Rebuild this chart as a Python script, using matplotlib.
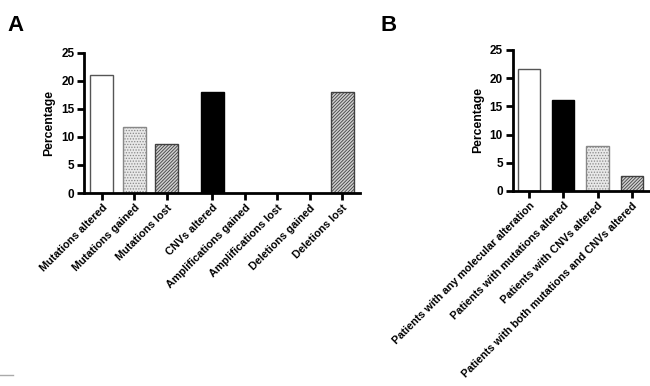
import matplotlib.pyplot as plt
from matplotlib.lines import Line2D

plt.rcParams["font.family"] = ["Liberation Sans", "DejaVu Sans"]
plt.rcParams["font.weight"] = "bold"
plt.rcParams["hatch.linewidth"] = 0.6

# Panel A
a_labels = ["Mutations altered", "Mutations gained", "Mutations lost", "CNVs altered",
            "Amplifications gained", "Amplifications lost", "Deletions gained", "Deletions lost"]
a_values = [21.0, 11.8, 8.8, 18.1, 0, 0, 0, 18.1]
a_pos = [0, 1, 2, 3.4, 4.4, 5.4, 6.4, 7.4]

# Panel B
b_labels = ["Patients with any molecular alteration", "Patients with mutations altered",
            "Patients with CNVs altered", "Patients with both mutations and CNVs altered"]
b_values = [21.6, 16.1, 8.0, 2.7]
b_pos = [0, 1, 2, 3]

# bar styles: (face, edge, hatch)
styles = {
    "white": ("white", "#555555", None),
    "black": ("black", "black", None),
    "dots": ("#e8e8e8", "#888888", "......"),
    "diag": ("#d0d0d0", "#404040", "//////////"),
}
a_styles = ["white", "dots", "diag", "black", "white", "white", "white", "diag"]
b_styles = ["white", "black", "dots", "diag"]


def style_axis(ax, labels, pos):
    for s in ["top", "right"]:
        ax.spines[s].set_visible(False)
    for s in ["left", "bottom"]:
        ax.spines[s].set_linewidth(2)
    ax.set_ylim(0, 25)
    ax.set_yticks([0, 5, 10, 15, 20, 25])
    ax.tick_params(axis="both", direction="out", width=2, length=5, labelsize=8.5, pad=2)
    ax.set_xticks(pos)
    ax.set_xticklabels(labels, rotation=45, ha="right", rotation_mode="anchor", fontsize=7.8)
    ax.set_ylabel("Percentage", fontsize=8.8, fontweight="bold", labelpad=4)


def draw_bars(ax, pos, values, keys, width):
    for x, v, k in zip(pos, values, keys):
        face, edge, hatch = styles[k]
        if v == 0:
            continue
        ax.bar(x, v, width=width, color=face, edgecolor=edge, hatch=hatch, linewidth=1)


fig = plt.figure(figsize=(6.5, 3.86), dpi=100)

ax1 = fig.add_axes([0.1292, 0.5, 0.4246, 0.3627])
draw_bars(ax1, a_pos, a_values, a_styles, 0.7)
style_axis(ax1, a_labels, a_pos)
ax1.set_xlim(-0.55, 7.94)

ax2 = fig.add_axes([0.7888, 0.5052, 0.2112, 0.3653])
draw_bars(ax2, b_pos, b_values, b_styles, 0.65)
style_axis(ax2, b_labels, b_pos)
ax2.set_xlim(-0.475, 3.53)

fig.text(0.012, 0.96, "A", fontsize=16, fontweight="bold", va="top")
fig.text(0.585, 0.96, "B", fontsize=16, fontweight="bold", va="top")
fig.add_artist(Line2D([0.0, 0.02], [0.028, 0.028], color="#aaaaaa", linewidth=1))

plt.savefig("out.png", dpi=100)
